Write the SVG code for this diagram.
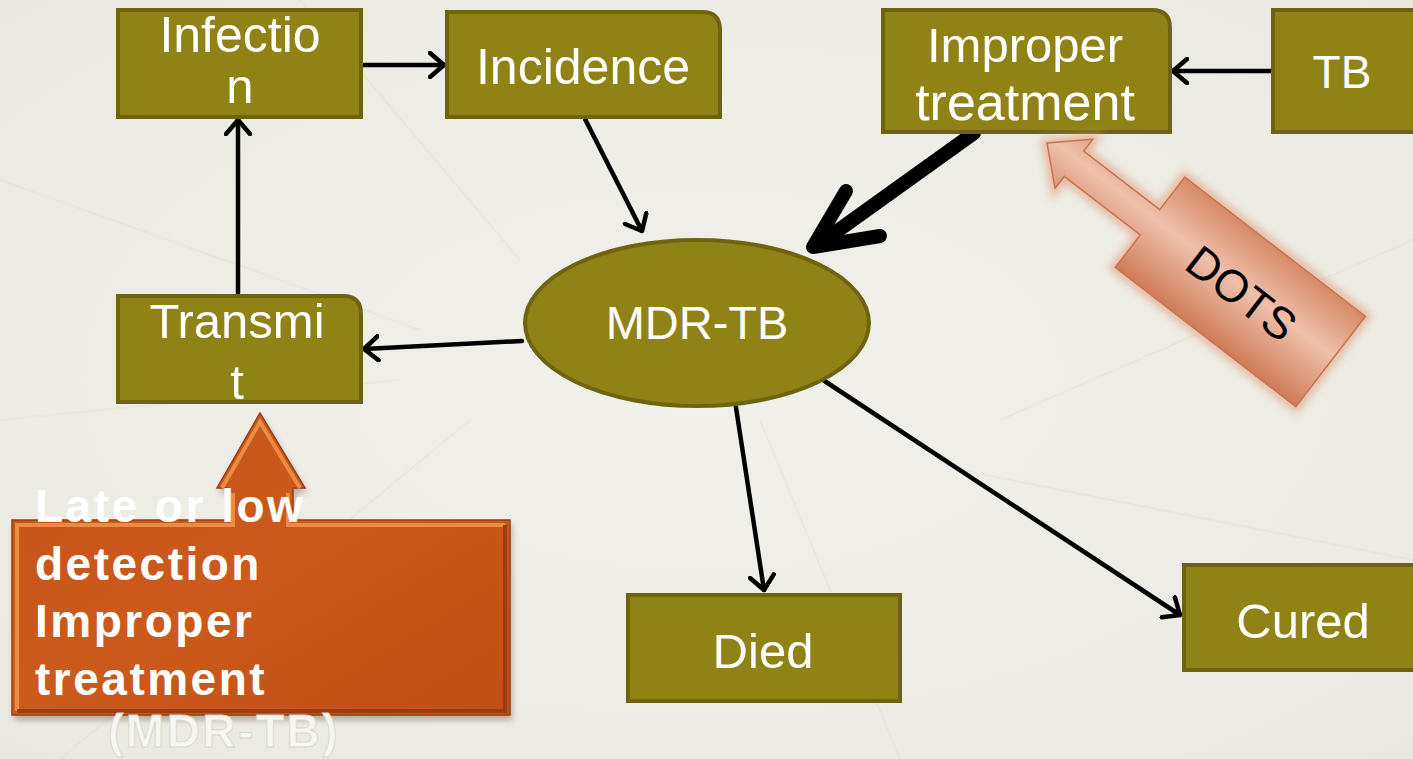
<svg xmlns="http://www.w3.org/2000/svg" width="1413" height="759" viewBox="0 0 1413 759">
<defs>
<style>
.node{fill:#908316;stroke:#6e6410;stroke-width:4}
.lbl{font-family:"Liberation Sans",Arial,sans-serif;fill:#ffffff;font-size:49px;text-anchor:middle}
.conn{stroke:#000;stroke-width:4.5;fill:none;stroke-linecap:round}
.big{font-family:"Liberation Sans",Arial,sans-serif;font-weight:bold;fill:#ffffff;font-size:46px;letter-spacing:2.5px}
</style>
<marker id="ah" viewBox="0 0 18 28" refX="16" refY="14" markerWidth="18" markerHeight="28" markerUnits="userSpaceOnUse" orient="auto">
<path d="M2,2 L16,14 L2,26" fill="none" stroke="#000" stroke-width="4.5" stroke-linecap="round" stroke-linejoin="round"/>
</marker>
<linearGradient id="dotsg" x1="0" y1="0" x2="0" y2="1">
<stop offset="0" stop-color="#d68a66"/>
<stop offset="0.45" stop-color="#efc0aa"/>
<stop offset="1" stop-color="#cf7c58"/>
</linearGradient>
<linearGradient id="orng" x1="0" y1="0" x2="1" y2="1">
<stop offset="0" stop-color="#c5531a"/>
<stop offset="0.5" stop-color="#cc5a1c"/>
<stop offset="1" stop-color="#c04e16"/>
</linearGradient>
<radialGradient id="bg" cx="0.5" cy="0.5" r="0.8">
<stop offset="0" stop-color="#f1f0ea"/>
<stop offset="1" stop-color="#e9e8e0"/>
</radialGradient>
<filter id="glow" x="-20%" y="-20%" width="140%" height="140%">
<feGaussianBlur stdDeviation="4"/>
</filter>
<filter id="shadow" x="-10%" y="-10%" width="120%" height="130%">
<feGaussianBlur stdDeviation="3"/>
</filter>
</defs>
<rect width="1413" height="759" fill="url(#bg)"/>
<g opacity="0.18" fill="none" stroke="#d0cec4" stroke-width="2">
<path d="M0,180 L420,330"/><path d="M0,420 L400,380"/><path d="M60,759 L470,420"/><path d="M900,759 L760,420"/><path d="M1413,240 L1000,420"/><path d="M1413,560 L960,470"/><path d="M300,0 L520,260"/>
</g>

<g id="connectors">
<line class="conn" x1="361" y1="65" x2="444" y2="65" marker-end="url(#ah)"/>
<line class="conn" x1="585" y1="119" x2="642" y2="231" marker-end="url(#ah)"/>
<line class="conn" x1="1273" y1="71" x2="1173" y2="71" marker-end="url(#ah)"/>
<line class="conn" x1="238" y1="293" x2="238" y2="120" marker-end="url(#ah)"/>
<line class="conn" x1="522" y1="341" x2="364" y2="349" marker-end="url(#ah)"/>
<line class="conn" x1="735" y1="401" x2="764" y2="590" marker-end="url(#ah)"/>
<line class="conn" x1="820" y1="378" x2="1180" y2="615" marker-end="url(#ah)"/>
<g id="thick-arrow" stroke="#000" stroke-width="14" stroke-linecap="round" stroke-linejoin="round" fill="none">
<line x1="974" y1="133" x2="822" y2="242"/>
<path d="M846,191 L813,247 L880,236"/>
</g>
</g>

<g id="infection"><rect class="node" x="118" y="10" width="243" height="107"/>
<text class="lbl" x="240" y="52" style="font-size:50px">Infectio</text>
<text class="lbl" x="240" y="103">n</text></g>

<g id="incidence"><path class="node" d="M447,12 H702 Q720,12 720,30 V117 H447 Z"/>
<text class="lbl" x="583" y="84" style="font-size:50px">Incidence</text></g>

<g id="improper"><path class="node" d="M883,10 H1152 Q1170,10 1170,28 V132 H883 Z"/>
<text class="lbl" x="1025" y="62">Improper</text>
<text class="lbl" x="1025" y="120" style="font-size:52px">treatment</text></g>

<g id="tb"><rect class="node" x="1273" y="10" width="145" height="122"/>
<text class="lbl" x="1342" y="88" style="font-size:46px">TB</text></g>

<g id="transmit"><path class="node" d="M118,296 H343 Q361,296 361,314 V402 H118 Z"/>
<text class="lbl" x="237" y="338">Transmi</text>
<text class="lbl" x="237" y="399">t</text></g>

<g id="mdrtb"><ellipse class="node" cx="697" cy="323" rx="172" ry="83"/>
<text class="lbl" x="697" y="339" style="font-size:47px">MDR-TB</text></g>

<g id="died"><rect class="node" x="628" y="595" width="272" height="106"/>
<text class="lbl" x="763" y="668">Died</text></g>

<g id="cured"><rect class="node" x="1184" y="565" width="235" height="105"/>
<text class="lbl" x="1303" y="638">Cured</text></g>

<g id="dots" transform="translate(1047,143) rotate(37.6)">
<path d="M0,0 L34,-31 L34,-16 L130,-16 L130,-57 L358,-57 L358,57 L130,57 L130,16 L34,16 L34,31 Z" fill="none" stroke="#e2a07f" stroke-width="10" opacity="0.7" filter="url(#glow)"/>
<path d="M0,0 L34,-31 L34,-16 L130,-16 L130,-57 L358,-57 L358,57 L130,57 L130,16 L34,16 L34,31 Z" fill="url(#dotsg)" stroke="#c9744e" stroke-width="1.5"/>
<text x="246" y="16" font-family="'Liberation Sans',Arial,sans-serif" font-size="45" fill="#000" text-anchor="middle">DOTS</text>
</g>

<g id="detection-note">
<path d="M12,520 L228,520 L228,488 L217,488 L260,413 L305,488 L293,488 L293,520 L510,520 L510,715 L12,715 Z" fill="#6b5a48" opacity="0.45" filter="url(#shadow)" transform="translate(2,5)"/>
<path d="M12,520 L228,520 L228,488 L217,488 L260,413 L305,488 L293,488 L293,520 L510,520 L510,715 L12,715 Z" fill="url(#orng)" stroke="#9c3e0e" stroke-width="1.5"/>
<path d="M17,711 L17,525 L233,525 L233,493 M222,488 L260,422 L300,488 M288,493 L288,525 L505,525" fill="none" stroke="#f2954a" stroke-width="4" opacity="0.85"/>
<path d="M17,711 L505,711 L505,525" fill="none" stroke="#8e3810" stroke-width="4" opacity="0.8"/>
<text class="big" x="35" y="522">Late or low</text>
<text class="big" x="35" y="580">detection</text>
<text class="big" x="35" y="637">Improper</text>
<text class="big" x="35" y="695">treatment</text>
<text class="big" x="108" y="747" style="fill:#f6f6f2;stroke:#d6d5cc;stroke-width:0.8">(MDR-TB)</text>
</g>
</svg>
